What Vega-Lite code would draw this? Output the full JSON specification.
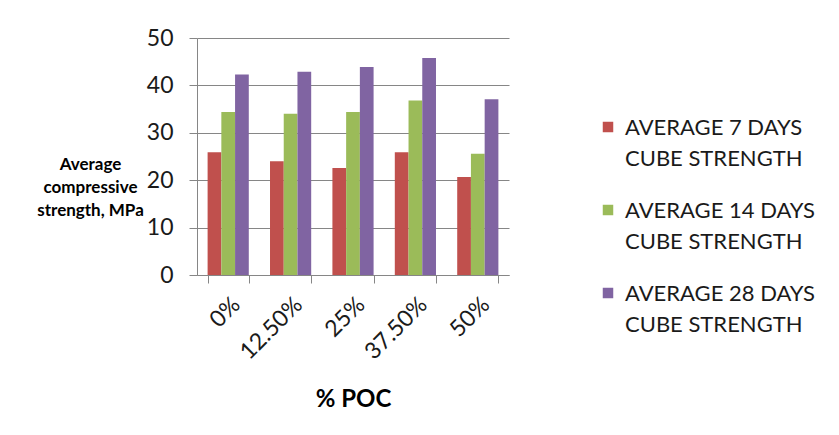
{
  "$schema": "https://vega.github.io/schema/vega-lite/v6.json",
  "autosize": "none",
  "width": 312,
  "height": 237,
  "padding": {"left": 197, "top": 38, "right": 330, "bottom": 160},
  "background": "white",
  "config": {
    "font": "Lato",
    "view": {"stroke": null}
  },
  "data": {
    "values": [
      {"poc": "0%", "series": "AVERAGE 7 DAYS CUBE STRENGTH", "strength": 25.9},
      {"poc": "0%", "series": "AVERAGE 14 DAYS CUBE STRENGTH", "strength": 34.4},
      {"poc": "0%", "series": "AVERAGE 28 DAYS CUBE STRENGTH", "strength": 42.3},
      {"poc": "12.50%", "series": "AVERAGE 7 DAYS CUBE STRENGTH", "strength": 24.0},
      {"poc": "12.50%", "series": "AVERAGE 14 DAYS CUBE STRENGTH", "strength": 34.0},
      {"poc": "12.50%", "series": "AVERAGE 28 DAYS CUBE STRENGTH", "strength": 42.9},
      {"poc": "25%", "series": "AVERAGE 7 DAYS CUBE STRENGTH", "strength": 22.6},
      {"poc": "25%", "series": "AVERAGE 14 DAYS CUBE STRENGTH", "strength": 34.4},
      {"poc": "25%", "series": "AVERAGE 28 DAYS CUBE STRENGTH", "strength": 43.9},
      {"poc": "37.50%", "series": "AVERAGE 7 DAYS CUBE STRENGTH", "strength": 25.9},
      {"poc": "37.50%", "series": "AVERAGE 14 DAYS CUBE STRENGTH", "strength": 36.8},
      {"poc": "37.50%", "series": "AVERAGE 28 DAYS CUBE STRENGTH", "strength": 45.8},
      {"poc": "50%", "series": "AVERAGE 7 DAYS CUBE STRENGTH", "strength": 20.7},
      {"poc": "50%", "series": "AVERAGE 14 DAYS CUBE STRENGTH", "strength": 25.6},
      {"poc": "50%", "series": "AVERAGE 28 DAYS CUBE STRENGTH", "strength": 37.1}
    ]
  },
  "mark": {"type": "bar"},
  "encoding": {
    "x": {
      "field": "poc",
      "type": "nominal",
      "sort": null,
      "scale": {"paddingInner": 0.34, "paddingOuter": 0.17},
      "axis": {
        "title": "% POC",
        "titleFont": "Lato",
        "titleFontSize": 24,
        "titleFontWeight": "bold",
        "titleColor": "#000000",
        "titleBaseline": "alphabetic",
        "titleY": 131,
        "labelAngle": -45,
        "labelFontSize": 23,
        "labelColor": "#1a1a1a",
        "labelPadding": 10,
        "tickBand": "extent",
        "tickSize": 8,
        "tickColor": "#868686",
        "domainColor": "#868686",
        "grid": false
      }
    },
    "xOffset": {
      "field": "series",
      "type": "nominal",
      "sort": ["AVERAGE 7 DAYS CUBE STRENGTH", "AVERAGE 14 DAYS CUBE STRENGTH", "AVERAGE 28 DAYS CUBE STRENGTH"],
      "scale": {"paddingInner": 0, "paddingOuter": 0}
    },
    "y": {
      "field": "strength",
      "type": "quantitative",
      "scale": {"domain": [0, 50]},
      "axis": {
        "values": [0, 10, 20, 30, 40, 50],
        "title": ["Average", "compressive", "strength, MPa"],
        "titleAngle": 0,
        "titleFontSize": 17,
        "titleFontWeight": "bold",
        "titleColor": "#000000",
        "titleAlign": "center",
        "titleBaseline": "alphabetic",
        "titleLineHeight": 23,
        "titleX": -107,
        "titleY": 131,
        "labelFontSize": 23,
        "labelColor": "#1a1a1a",
        "labelPadding": 16,
        "tickSize": 8,
        "tickColor": "#868686",
        "domainColor": "#868686",
        "gridColor": "#868686",
        "gridOpacity": 1
      }
    },
    "color": {
      "field": "series",
      "type": "nominal",
      "scale": {
        "domain": ["AVERAGE 7 DAYS CUBE STRENGTH", "AVERAGE 14 DAYS CUBE STRENGTH", "AVERAGE 28 DAYS CUBE STRENGTH"],
        "range": ["#C0504D", "#9BBB59", "#8064A2"]
      },
      "legend": {
        "title": null,
        "orient": "none",
        "legendX": 400,
        "legendY": 78,
        "symbolType": "square",
        "symbolSize": 110,
        "symbolStrokeWidth": 0,
        "labelFontSize": 22,
        "labelColor": "#1a1a1a",
        "labelLimit": 400,
        "labelOffset": 6,
        "labelBaseline": "alphabetic",
        "rowPadding": 29,
        "labelExpr": "[slice(datum.label, 0, indexof(datum.label, ' CUBE')), 'CUBE STRENGTH']",
        "encode": {
          "labels": {"update": {"lineHeight": {"value": 31}, "dy": {"value": 8}}}
        }
      }
    }
  }
}
